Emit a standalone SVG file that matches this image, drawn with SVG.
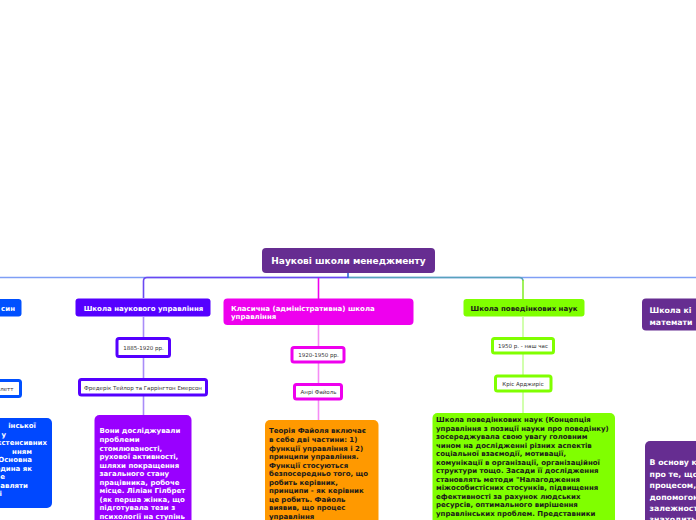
<svg xmlns="http://www.w3.org/2000/svg" width="696" height="520" viewBox="0 0 696 520">
<style>
.t{font-family:"DejaVu Sans",Verdana,sans-serif;font-weight:bold}
.w{fill:#ffffff}
.d{fill:#1a1a1a}
.s{font-size:7px}
.l{font-size:7.8px}
.m{font-family:"DejaVu Sans",Verdana,sans-serif;font-size:5.5px;fill:#333333}
.c{fill:none;stroke-width:1.6}
.box{fill:#ffffff;stroke-width:3}
</style>
<rect x="0" y="0" width="696" height="520" fill="#ffffff"/>
<g id="connectors">
  <path class="c" stroke="#7f9ff5" d="M0 277.5 H696"/>
  <path class="c" stroke="#6a48f2" d="M348 277.5 H147 Q143.5 277.5 143.5 281 V298"/>
  <path class="c" stroke="#ee00ee" d="M318.5 278 V299"/>
  <path class="c" stroke="#58a2bd" d="M348 277.5 H519 Q523 277.5 523 281"/>
  <path class="c" stroke="#88ee33" d="M523 280 V299"/>
  <path class="c" stroke="#2f66d8" d="M348 273 V278"/>
  <path class="c" stroke="#a98cf8" d="M143.5 317 V338 M143.5 358 V379 M143.5 396 V415"/>
  <path class="c" stroke="#f58cf5" d="M318.5 325 V346 M318.5 363 V383 M318.5 400 V420"/>
  <path class="c" stroke="#c6ff99" d="M523 317 V337 M523 354 V375 M523 392 V413"/>
</g>
<g id="root">
  <rect x="262" y="248" width="173" height="25" rx="4" fill="#662d91"/>
  <text class="t w" x="348.5" y="264" font-size="9" text-anchor="middle">Наукові школи менеджменту</text>
</g>
<g id="human-relations">
  <rect x="-60" y="299" width="81.5" height="17.5" rx="3" fill="#0050ff"/>
  <text class="t w s" x="15" y="310.5" text-anchor="end">син</text>
</g>
<g id="follett">
  <rect x="-40" y="380.5" width="60.5" height="16" rx="2" class="box" stroke="#0050ff"/>
  <text class="m" x="13.5" y="391" text-anchor="end">ллетт</text>
</g>
<g id="human-relations-desc">
  <rect x="-60" y="418" width="112" height="90" rx="5" fill="#0048ff"/>
  <g class="t w s" text-anchor="end">
    <text x="36" y="428">інської</text>
    <text x="6" y="436.5">у</text>
    <text x="47" y="445">кстенсивних</text>
    <text x="32" y="453.5">нням</text>
    <text x="32" y="462">Основна</text>
    <text x="32" y="470.5">людина як</text>
    <text x="5" y="479">е</text>
    <text x="28" y="487.5">авляти</text>
    <text x="2" y="496">і</text>
  </g>
</g>
<g id="scientific">
  <rect x="75.5" y="298.5" width="135" height="18" rx="3" fill="#5500ff"/>
  <text class="t w s" x="143.5" y="310.5" text-anchor="middle">Школа наукового управління</text>
</g>
<g id="scientific-date">
  <rect x="117" y="338.5" width="52.5" height="18" rx="2" class="box" stroke="#5500ff"/>
  <text class="m" x="143.5" y="349.5" text-anchor="middle">1885-1920 рр.</text>
</g>
<g id="scientific-names">
  <rect x="79.5" y="379.5" width="127" height="15.5" rx="2" class="box" stroke="#5500ff"/>
  <text class="m" x="143" y="389.5" text-anchor="middle">Фредерік Тейлор та Гаррінгтон Емерсон</text>
</g>
<g id="scientific-desc">
  <rect x="94.5" y="415" width="97" height="120" rx="5" fill="#9900ff"/>
  <g class="t w s">
    <text x="99.5" y="433">Вони досліджували</text>
    <text x="99.5" y="441.5">проблеми</text>
    <text x="99.5" y="450.5">стомлюваності,</text>
    <text x="99.5" y="459">рухової активності,</text>
    <text x="99.5" y="467.5">шляхи покращення</text>
    <text x="99.5" y="476">загального стану</text>
    <text x="99.5" y="484.5">працівника, робоче</text>
    <text x="99.5" y="493">місце. Ліліан Гілбрет</text>
    <text x="99.5" y="501.5">(як перша жінка, що</text>
    <text x="99.5" y="510">підготувала тези з</text>
    <text x="99.5" y="518.5">психології на ступінь</text>
  </g>
</g>
<g id="classical">
  <rect x="223.5" y="298.5" width="190" height="26.5" rx="4" fill="#ee00ee"/>
  <text class="t w s" x="231" y="311">Класична (адміністративна) школа</text>
  <text class="t w s" x="231" y="319">управління</text>
</g>
<g id="classical-date">
  <rect x="292" y="347.5" width="52" height="14.5" rx="2" class="box" stroke="#ee00ee"/>
  <text class="m" x="318.5" y="356.5" text-anchor="middle">1920-1950 рр.</text>
</g>
<g id="classical-names">
  <rect x="294.5" y="384.5" width="47" height="14.5" rx="2" class="box" stroke="#ee00ee"/>
  <text class="m" x="318.5" y="393.5" text-anchor="middle">Анрі Файоль</text>
</g>
<g id="classical-desc">
  <rect x="265" y="420" width="113.5" height="120" rx="5" fill="#ff9900"/>
  <g class="t d s">
    <text x="269" y="433">Теорія Файоля включає</text>
    <text x="269" y="441.5">в себе дві частини: 1)</text>
    <text x="269" y="450.5">функції управління і 2)</text>
    <text x="269" y="459">принципи управління.</text>
    <text x="269" y="467.5">Функції стосуються</text>
    <text x="269" y="476">безпосередньо того, що</text>
    <text x="269" y="484.5">робить керівник,</text>
    <text x="269" y="493">принципи - як керівник</text>
    <text x="269" y="501.5">це робить. Файоль</text>
    <text x="269" y="510">виявив, що процес</text>
    <text x="269" y="518.5">управління</text>
  </g>
</g>
<g id="behavioral">
  <rect x="463.5" y="299" width="121" height="17.5" rx="3" fill="#80ff00"/>
  <text class="t d s" x="524" y="310.5" text-anchor="middle">Школа поведінкових наук</text>
</g>
<g id="behavioral-date">
  <rect x="492.5" y="338.5" width="61" height="14.5" rx="2" class="box" stroke="#80ff00"/>
  <text class="m" x="523" y="347.5" text-anchor="middle">1950 р. - наш час</text>
</g>
<g id="behavioral-names">
  <rect x="495.5" y="376" width="55.5" height="15" rx="2" class="box" stroke="#80ff00"/>
  <text class="m" x="523" y="385.5" text-anchor="middle">Кріс Арджиріс</text>
</g>
<g id="behavioral-desc">
  <rect x="432.5" y="413" width="182.5" height="120" rx="5" fill="#80ff00"/>
  <g class="t d s">
    <text x="436" y="422">Школа поведінкових наук (Концепція</text>
    <text x="436" y="430.5">управління з позиції науки про поведінку)</text>
    <text x="436" y="439">зосереджувала свою увагу головним</text>
    <text x="436" y="447.5">чином на дослідженні різних аспектів</text>
    <text x="436" y="456">соціальної взаємодії, мотивації,</text>
    <text x="436" y="464.5">комунікації в організації, організаційної</text>
    <text x="436" y="473">структури тощо. Засади її дослідження</text>
    <text x="436" y="481.5">становлять методи "Налагодження</text>
    <text x="436" y="490">міжособистісних стосунків, підвищення</text>
    <text x="436" y="498.5">ефективності за рахунок людських</text>
    <text x="436" y="507">ресурсів, оптимального вирішення</text>
    <text x="436" y="515.5">управлінських проблем. Представники</text>
  </g>
</g>
<g id="quantitative">
  <rect x="642" y="298.5" width="120" height="32" rx="4" fill="#662d91"/>
  <text class="t w l" x="649.5" y="313">Школа кі</text>
  <text class="t w l" x="649.5" y="325">математи</text>
</g>
<g id="quantitative-desc">
  <rect x="645" y="441" width="120" height="100" rx="5" fill="#662d91"/>
  <g class="t w l">
    <text x="649.5" y="465">В основу кі</text>
    <text x="649.5" y="476.5">про те, що у</text>
    <text x="649.5" y="488">процесом, я</text>
    <text x="649.5" y="499.5">допомогою</text>
    <text x="649.5" y="511">залежносте</text>
    <text x="649.5" y="522">знаходитьс</text>
  </g>
</g>
</svg>
